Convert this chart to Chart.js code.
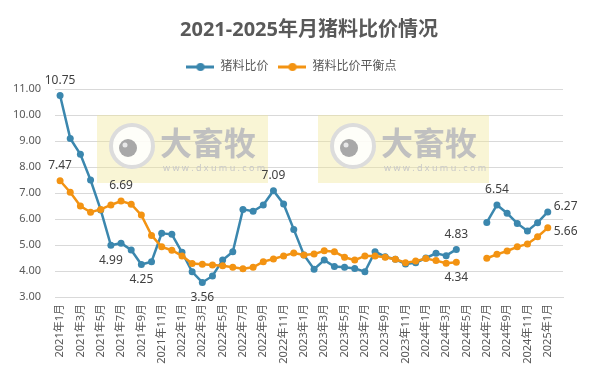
<!DOCTYPE html>
<html>
<head>
<meta charset="utf-8">
<script src="https://cdn.jsdelivr.net/npm/chart.js@4.4.1/dist/chart.umd.min.js"></script>
<style>
html, body { margin: 0; padding: 0; background: #fff; }
#wrap { width: 600px; height: 374px; }
</style>
</head>
<body>
<div id="wrap"><canvas id="ratio-chart"></canvas></div>
<script>
var months = [
    '2021年1月','2021年2月','2021年3月','2021年4月','2021年5月','2021年6月','2021年7月','2021年8月','2021年9月','2021年10月','2021年11月','2021年12月',
    '2022年1月','2022年2月','2022年3月','2022年4月','2022年5月','2022年6月','2022年7月','2022年8月','2022年9月','2022年10月','2022年11月','2022年12月',
    '2023年1月','2023年2月','2023年3月','2023年4月','2023年5月','2023年6月','2023年7月','2023年8月','2023年9月','2023年10月','2023年11月','2023年12月',
    '2024年1月','2024年2月','2024年3月','2024年4月','2024年5月','2024年6月','2024年7月','2024年8月','2024年9月','2024年10月','2024年11月','2024年12月',
    '2025年1月','2025年2月'
];

// 猪料比价
var ratioValues = [
    10.75, 9.10, 8.49, 7.50, 6.35, 4.99, 5.07, 4.81, 4.25, 4.36, 5.45, 5.41,
    4.72, 3.97, 3.56, 3.81, 4.42, 4.74, 6.37, 6.30, 6.54, 7.09, 6.58, 5.60,
    4.62, 4.07, 4.42, 4.17, 4.14, 4.10, 3.97, 4.74, 4.55, 4.45, 4.27, 4.32,
    4.50, 4.68, 4.59, 4.83, null, null, 5.87, 6.54, 6.22, 5.83, 5.54, 5.86,
    6.27, null
];

// 猪料比价平衡点
var balanceValues = [
    7.47, 7.03, 6.50, 6.26, 6.37, 6.54, 6.69, 6.57, 6.15, 5.37, 4.93, 4.80,
    4.58, 4.29, 4.26, 4.23, 4.20, 4.14, 4.09, 4.14, 4.36, 4.46, 4.58, 4.69,
    4.62, 4.65, 4.78, 4.74, 4.53, 4.42, 4.58, 4.58, 4.53, 4.45, 4.32, 4.38,
    4.48, 4.40, 4.30, 4.34, null, null, 4.49, 4.64, 4.77, 4.93, 5.04, 5.32,
    5.66, null
];

var yTicks = [3, 4, 5, 6, 7, 8, 9, 10, 11];

// which points carry a value label, and where
var ratioLabelAt = { 0: 'top', 5: 'bottom', 8: 'bottom', 14: 'bottom', 21: 'top', 39: 'top', 43: 'top', 48: 'right' };
var balanceLabelAt = { 0: 'top', 6: 'top', 39: 'bottom', 48: 'right' };

var BLUE = '#3b87ae';
var ORANGE = '#f39312';
var FONT = '"Noto Sans", "Noto Sans CJK SC", sans-serif';

function legendMark(color) {
    var c = document.createElement('canvas');
    c.width = 28; c.height = 10;
    var g = c.getContext('2d');
    g.strokeStyle = color; g.lineWidth = 3;
    g.beginPath(); g.moveTo(0, 5); g.lineTo(28, 5); g.stroke();
    g.fillStyle = color;
    g.beginPath(); g.arc(14, 5, 4, 0, Math.PI * 2); g.fill();
    return c;
}
var marks = [legendMark(BLUE), legendMark(ORANGE)];

// a bit more room under the legend, and nudge it right like the original
var legendGap = {
    id: 'legendGap',
    beforeLayout: function(chart) {
        var lg = chart.legend;
        if (lg && !lg._gapDone) {
            var fit = lg.fit;
            lg.fit = function() { fit.apply(this, arguments); this.height += 6; };
            lg._gapDone = true;
        }
    },
    afterLayout: function(chart) {
        if (chart.legend) chart.legend.left += 20;
    }
};

var valueLabels = {
    id: 'valueLabels',
    afterDatasetsDraw: function(chart) {
        var ctx = chart.ctx;
        var sets = [ratioLabelAt, balanceLabelAt];
        ctx.save();
        ctx.font = '12px ' + FONT;
        ctx.fillStyle = '#404040';
        sets.forEach(function(where, d) {
            var meta = chart.getDatasetMeta(d);
            var vals = chart.data.datasets[d].data;
            Object.keys(where).forEach(function(k) {
                var p = meta.data[k];
                var txt = vals[k].toFixed(2);
                if (where[k] === 'right') {
                    ctx.textAlign = 'left'; ctx.textBaseline = 'middle';
                    ctx.fillText(txt, p.x + 6, p.y + (d === 0 ? -5 : 4));
                } else {
                    ctx.textAlign = 'center'; ctx.textBaseline = 'middle';
                    ctx.fillText(txt, p.x, where[k] === 'top' ? p.y - 15 : p.y + 15);
                }
            });
        });
        ctx.restore();
    }
};

// dxumu watermark boxes
var watermark = {
    id: 'watermark',
    beforeDatasetsDraw: function(chart) {
        var ctx = chart.ctx;
        [97, 318].forEach(function(x0) {
            ctx.save();
            ctx.fillStyle = 'rgba(240,230,150,0.4)';
            ctx.fillRect(x0, 115, 171, 68);
            var cx = x0 + 35, cy = 146;
            ctx.fillStyle = 'rgba(255,255,255,0.85)';
            ctx.beginPath(); ctx.arc(cx, cy, 21, 0, Math.PI * 2); ctx.fill();
            ctx.strokeStyle = '#dcdcdc'; ctx.lineWidth = 4;
            ctx.stroke();
            ctx.fillStyle = '#a8a8a8';
            ctx.beginPath(); ctx.arc(cx - 4, cy + 2, 9, 0, Math.PI * 2); ctx.fill();
            ctx.fillStyle = '#e8e8e8';
            ctx.beginPath(); ctx.arc(cx - 7, cy - 1, 2.5, 0, Math.PI * 2); ctx.fill();
            ctx.fillStyle = '#c0c0c0';
            ctx.font = 'bold 32px "Noto Sans CJK SC", sans-serif';
            ctx.textAlign = 'left'; ctx.textBaseline = 'middle';
            ctx.fillText('大畜牧', x0 + 63, 143);
            ctx.font = '9px ' + FONT;
            ctx.fillStyle = '#c8c8c8';
            ctx.fillText('w w w . d x u m u . c o m', x0 + 66, 168);
            ctx.restore();
        });
    }
};

window.onload = function() {
    var ctx = document.getElementById('ratio-chart');
    new Chart(ctx, {
        type: 'line',
        data: {
            labels: months,
            datasets: [
                {
                    label: '猪料比价',
                    data: ratioValues,
                    borderColor: BLUE,
                    backgroundColor: BLUE,
                    borderWidth: 2.5,
                    pointRadius: 3.5,
                    pointHoverRadius: 3.5,
                    pointBorderWidth: 0,
                    tension: 0,
                    spanGaps: false,
                    order: 2
                },
                {
                    label: '猪料比价平衡点',
                    data: balanceValues,
                    borderColor: ORANGE,
                    backgroundColor: ORANGE,
                    borderWidth: 2.5,
                    pointRadius: 3.5,
                    pointHoverRadius: 3.5,
                    pointBorderWidth: 0,
                    tension: 0,
                    spanGaps: false,
                    order: 1
                }
            ]
        },
        options: {
            responsive: true,
            maintainAspectRatio: false,
            animation: false,
            events: [],
            layout: { padding: { left: 0, right: 37, top: 0, bottom: 0 } },
            plugins: {
                title: {
                    display: true,
                    fullSize: false,
                    text: '2021-2025年月猪料比价情况',
                    color: '#595959',
                    font: { family: FONT, size: 20, weight: 'bold' },
                    padding: { top: 18, bottom: 9 }
                },
                legend: {
                    display: true,
                    labels: {
                        color: '#595959',
                        font: { family: FONT, size: 12 },
                        usePointStyle: true,
                        pointStyleWidth: 28,
                        padding: 10,
                        generateLabels: function(chart) {
                            return chart.data.datasets.map(function(ds, i) {
                                return { text: ds.label, pointStyle: marks[i], datasetIndex: i, fontColor: '#595959', lineWidth: 0, strokeStyle: 'transparent', fillStyle: ds.borderColor };
                            });
                        }
                    }
                },
                tooltip: { enabled: false }
            },
            scales: {
                x: {
                    offset: true,
                    grid: { display: false, drawTicks: false },
                    border: { display: true, color: '#d9d9d9' },
                    ticks: {
                        autoSkip: false,
                        maxRotation: 90,
                        minRotation: 90,
                        padding: 7,
                        color: '#595959',
                        font: { family: FONT, size: 11 },
                        callback: function(v, i) { return i % 2 === 0 ? months[i] : ''; }
                    },
                    afterFit: function(s) { s.height = 77; }
                },
                y: {
                    min: 3,
                    max: 11,
                    afterBuildTicks: function(s) { s.ticks = yTicks.map(function(v) { return { value: v }; }); },
                    grid: { color: '#d9d9d9', drawTicks: false },
                    border: { display: false },
                    ticks: {
                        padding: 14,
                        color: '#595959',
                        font: { family: FONT, size: 11 },
                        callback: function(v) { return v.toFixed(2); }
                    },
                    afterFit: function(s) { s.width = 55; }
                }
            }
        },
        plugins: [legendGap, watermark, valueLabels]
    });
};
</script>
</body>
</html>
